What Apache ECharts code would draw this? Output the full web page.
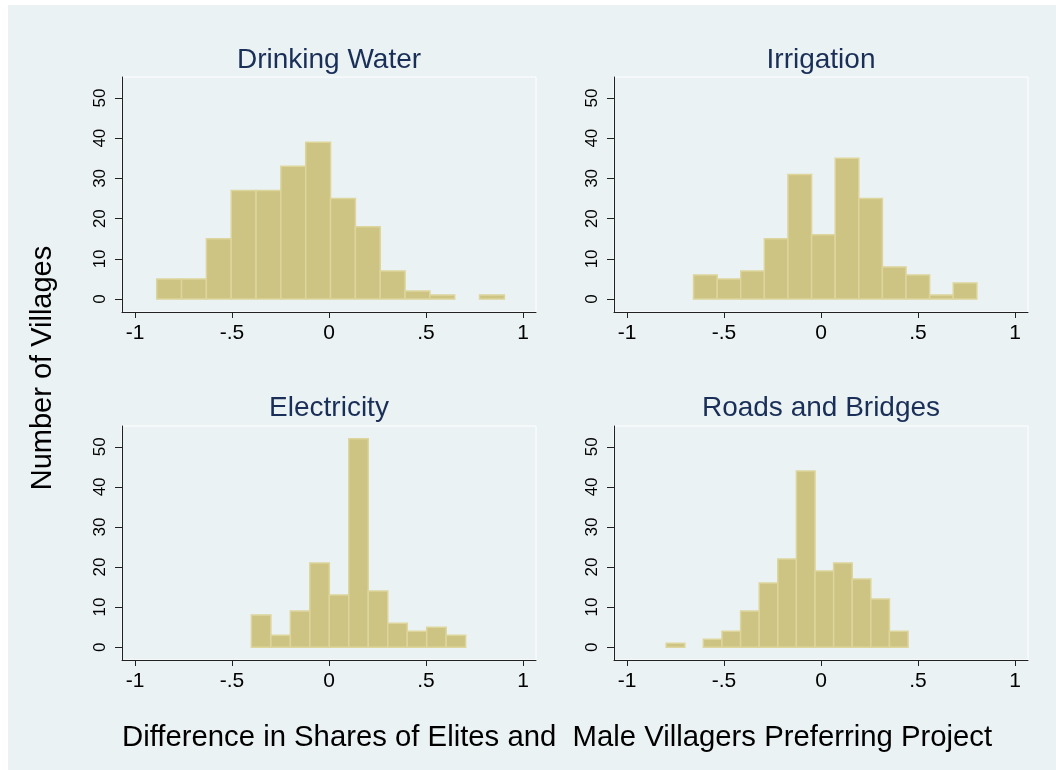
<!DOCTYPE html>
<html>
<head>
<meta charset="utf-8">
<script src="https://cdn.jsdelivr.net/npm/echarts@6/dist/echarts.min.js"></script>
<style>
html,body{margin:0;padding:0;background:#fff;}
#chart{width:1056px;height:770px;}
</style>
</head>
<body>
<div id="chart"></div>
<script>
// ---- data ----
const panelTitles = ['Drinking Water', 'Irrigation', 'Electricity', 'Roads and Bridges'];
const drinkingWaterCounts = [5, 5, 15, 27, 27, 33, 39, 25, 18, 7, 2, 1, 0, 1];
const irrigationCounts = [6, 5, 7, 15, 31, 16, 35, 25, 8, 6, 1, 4];
const electricityCounts = [8, 3, 9, 21, 13, 52, 14, 6, 4, 5, 3];
const roadsBridgesCounts = [1, 0, 2, 4, 9, 16, 22, 44, 19, 21, 17, 12, 4];
const binStarts = [-0.888, -0.657, -0.400, -0.798];
const binWidths = [0.128, 0.1217, 0.1004, 0.0959];
const xTickValues = [-1, -0.5, 0, 0.5, 1];
const xTickLabels = ['-1', '-.5', '0', '.5', '1'];
const yTickValues = [0, 10, 20, 30, 40, 50];
const yTickLabels = ['0', '10', '20', '30', '40', '50'];
const yAxisTitle = 'Number of Villages';
const xAxisTitle = 'Difference in Shares of Elites and  Male Villagers Preferring Project';

const countsByPanel = [drinkingWaterCounts, irrigationCounts, electricityCounts, roadsBridgesCounts];

// ---- layout / style ----
const FONT = '"Liberation Sans", Arial, Helvetica, sans-serif';
const BG = '#eaf2f3';
const BAR_FILL = '#cdc382';
const BAR_LINE = '#ddd59c';
const AXIS_COLOR = '#222';
const TITLE_COLOR = '#1a2f57';
const grids = [
  {left: 122, top: 77, width: 414, height: 235},
  {left: 614, top: 77, width: 414, height: 235},
  {left: 122, top: 426, width: 414, height: 234},
  {left: 614, top: 426, width: 414, height: 234}
];
const titlePos = [[329, 60], [821, 60], [329, 408], [821, 408]];

function lookup(values, labels, v) {
  for (let i = 0; i < values.length; i++) {
    if (Math.abs(values[i] - v) < 1e-9) return labels[i];
  }
  return '';
}

const option = {
  animation: false,
  backgroundColor: 'transparent',
  grid: grids.map(g => Object.assign({
    show: true, borderColor: '#ffffff', borderWidth: 1, backgroundColor: 'transparent'
  }, g)),
  xAxis: grids.map((g, i) => ({
    type: 'value', gridIndex: i, min: -1.067, max: 1.067,
    axisLine: {show: true, onZero: false, lineStyle: {color: AXIS_COLOR, width: 1}},
    axisTick: {show: true, length: 6, customValues: xTickValues, lineStyle: {color: AXIS_COLOR}},
    axisLabel: {
      show: true, customValues: xTickValues, margin: 11, fontSize: 21, color: '#000',
      fontFamily: FONT, formatter: v => lookup(xTickValues, xTickLabels, v)
    },
    splitLine: {show: false}
  })),
  yAxis: grids.map((g, i) => ({
    type: 'value', gridIndex: i, min: -3.2, max: 55.2,
    axisLine: {show: true, onZero: false, lineStyle: {color: AXIS_COLOR, width: 1}},
    axisTick: {show: true, length: 7, customValues: yTickValues, lineStyle: {color: AXIS_COLOR}},
    axisLabel: {
      show: true, customValues: yTickValues, rotate: 90, margin: 13, fontSize: 17, color: '#000',
      fontFamily: FONT, formatter: v => lookup(yTickValues, yTickLabels, v)
    },
    splitLine: {show: false}
  })),
  series: countsByPanel.map((counts, i) => ({
    type: 'custom',
    xAxisIndex: i, yAxisIndex: i,
    data: counts.map((c, k) => [binStarts[i] + k * binWidths[i], binStarts[i] + (k + 1) * binWidths[i], c]),
    encode: {x: [0, 1], y: 2},
    renderItem: function (params, api) {
      const c = api.value(2);
      if (!c) return null;
      const p0 = api.coord([api.value(0), c]);
      const p1 = api.coord([api.value(1), 0]);
      return {
        type: 'rect',
        shape: {x: p0[0], y: p0[1], width: p1[0] - p0[0], height: p1[1] - p0[1]},
        style: {fill: BAR_FILL, stroke: BAR_LINE, lineWidth: 1.5}
      };
    }
  })),
  graphic: [
    {type: 'rect', z: -100, silent: true, shape: {x: 8, y: 5, width: 1048, height: 765}, style: {fill: BG}}
  ].concat(panelTitles.map((t, i) => ({
    type: 'text', x: titlePos[i][0], y: titlePos[i][1],
    style: {text: t, font: '28px ' + FONT, fill: TITLE_COLOR, align: 'center', verticalAlign: 'middle',
            textAlign: 'center', textVerticalAlign: 'middle'}
  }))).concat([
    {type: 'text', x: 43, y: 368, rotation: Math.PI / 2,
     style: {text: yAxisTitle, font: '29px ' + FONT, fill: '#000', align: 'center', verticalAlign: 'middle',
             textAlign: 'center', textVerticalAlign: 'middle'}},
    {type: 'text', x: 122, y: 738,
     style: {text: xAxisTitle, font: '29.3px ' + FONT, fill: '#000', align: 'left', verticalAlign: 'middle',
             textAlign: 'left', textVerticalAlign: 'middle'}}
  ])
};

const chart = echarts.init(document.getElementById('chart'), null, {renderer: 'canvas'});
chart.setOption(option);
</script>
</body>
</html>
